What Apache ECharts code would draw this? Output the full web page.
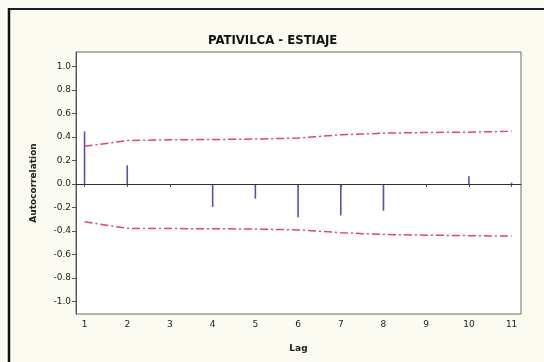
<!DOCTYPE html>
<html>
<head>
<meta charset="utf-8">
<script src="https://cdn.jsdelivr.net/npm/echarts@6/dist/echarts.min.js"></script>
<style>
html,body{margin:0;padding:0;background:#fbfbf1;}
#c{width:544px;height:362px;}
</style>
</head>
<body>
<div id="c"></div>
<script>
// Data
const lags = [1, 2, 3, 4, 5, 6, 7, 8, 9, 10, 11];
const acf = [0.448, 0.159, -0.01, -0.196, -0.125, -0.284, -0.267, -0.227, -0.01, 0.065, 0.01];
const upperLimit = [0.32, 0.369, 0.376, 0.378, 0.382, 0.39, 0.418, 0.432, 0.438, 0.441, 0.448];
const lowerLimit = [-0.322, -0.378, -0.38, -0.381, -0.384, -0.391, -0.415, -0.43, -0.436, -0.44, -0.444];
const yTicks = [-1.0, -0.8, -0.6, -0.4, -0.2, 0.0, 0.2, 0.4, 0.6, 0.8, 1.0];
const xTicks = [1, 2, 3, 4, 5, 6, 7, 8, 9, 10, 11];

const chart = echarts.init(document.getElementById('c'), null, {renderer: 'canvas'});
const pair = (a) => lags.map((l, i) => [l, a[i]]);
const font = 'DejaVu Sans';

chart.setOption({
  backgroundColor: '#fbfbf1',
  animation: false,
  title: {
    text: 'PATIVILCA - ESTIAJE',
    left: 203,
    top: 29,
    textStyle: {fontFamily: 'DejaVu Sans Condensed, DejaVu Sans', fontWeight: 'bold', fontSize: 13, color: '#111'}
  },
  grid: {
    left: 76, right: 23, top: 52, bottom: 48,
    show: true, backgroundColor: '#ffffff', borderColor: '#6a6a6a', borderWidth: 1
  },
  xAxis: {
    type: 'value', min: 0.8, max: 11.22,
    name: 'Lag', nameLocation: 'middle', nameGap: 30,
    nameTextStyle: {fontFamily: font, fontWeight: 'bold', fontSize: 9, color: '#222'},
    axisLine: {show: true, lineStyle: {color: '#555', width: 1}},
    axisTick: {show: true, length: 3, customValues: xTicks, lineStyle: {color: '#555'}},
    axisLabel: {customValues: xTicks, fontFamily: font, fontSize: 9, color: '#222', margin: 6},
    splitLine: {show: false}
  },
  yAxis: {
    type: 'value', min: -1.107, max: 1.123,
    name: 'Autocorrelation', nameLocation: 'middle', nameGap: 38, nameRotate: 90,
    nameTextStyle: {fontFamily: font, fontWeight: 'bold', fontSize: 9, color: '#222'},
    axisLine: {show: true, lineStyle: {color: '#555', width: 1}},
    axisTick: {show: true, length: 4, customValues: yTicks, lineStyle: {color: '#555'}},
    axisLabel: {customValues: yTicks, fontFamily: font, fontSize: 9, color: '#222', margin: 5,
      formatter: (v) => v.toFixed(1)},
    splitLine: {show: false}
  },
  series: [
    {
      type: 'bar', data: pair(acf), barWidth: 1.6,
      itemStyle: {color: '#5252a8'},
      silent: true,
      markLine: {
        silent: true, symbol: 'none', label: {show: false},
        lineStyle: {color: '#333', type: 'solid', width: 1},
        data: [{yAxis: 0}]
      }
    },
    {
      type: 'line', data: pair(upperLimit), symbol: 'none', silent: true,
      lineStyle: {color: '#e4407a', width: 1.5, type: [8, 3, 2, 3]}
    },
    {
      type: 'line', data: pair(lowerLimit), symbol: 'none', silent: true,
      lineStyle: {color: '#e4407a', width: 1.5, type: [8, 3, 2, 3]}
    }
  ],
  graphic: [
    {type: 'line', shape: {x1: 9, y1: 9, x2: 544, y2: 9}, style: {stroke: '#1d1d2a', lineWidth: 2}, silent: true},
    {type: 'line', shape: {x1: 9, y1: 8, x2: 9, y2: 362}, style: {stroke: '#111', lineWidth: 2.5}, silent: true}
  ]
});
</script>
</body>
</html>
